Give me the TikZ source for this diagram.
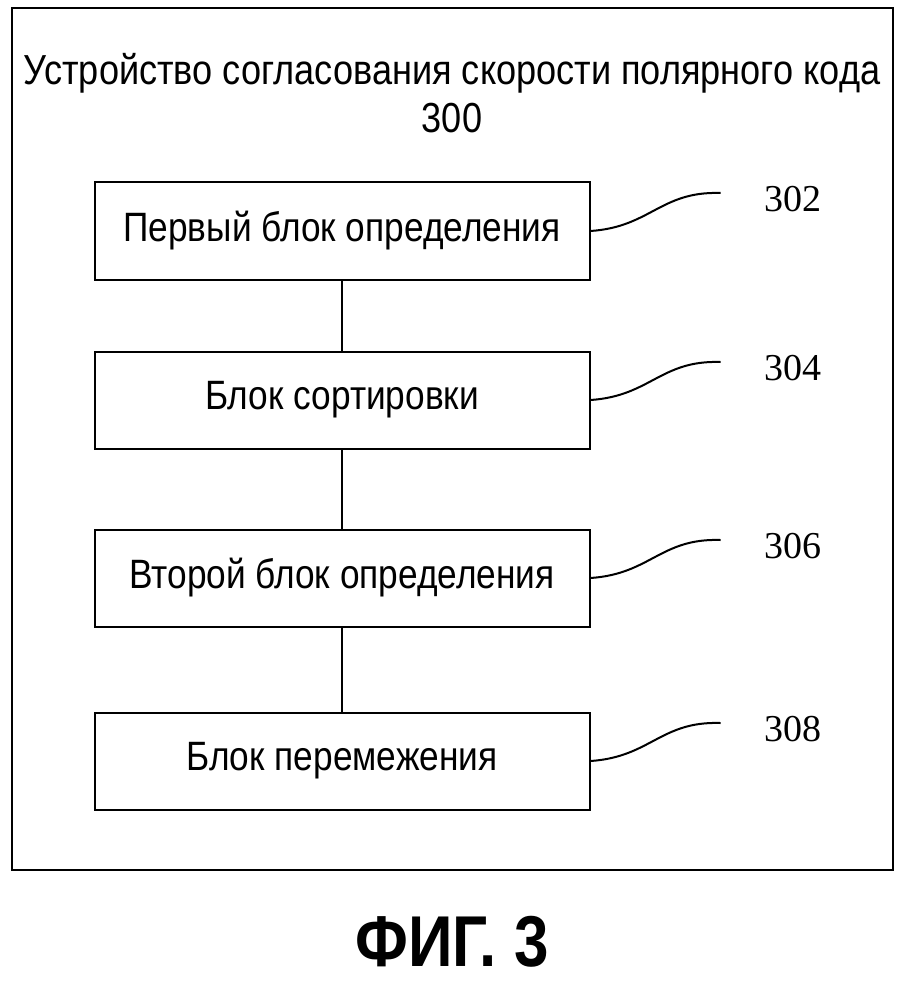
\documentclass[tikz,border=0pt]{standalone}
\usepackage{fontspec}
\setmainfont{Liberation Sans}[FakeStretch=0.86]
\newfontfamily\numfont{Liberation Serif}
\usetikzlibrary{positioning}
\begin{document}
\begin{tikzpicture}[x=1pt,y=-1pt,line width=2pt,
    blockbox/.style={draw,minimum width=495pt,minimum height=97pt,font=\fontsize{41}{48}\selectfont,inner sep=0pt},
    reflabel/.style={font=\numfont\fontsize{38}{42}\selectfont}]
    \useasboundingbox (0,0) rectangle (902,1000);
    \draw (12,8) rectangle (893,870);
    \node[font=\fontsize{42}{48}\selectfont,align=center] (title) at (452,93)
        {Устройство согласования скорости полярного кода\\300};

    \node[blockbox] (b1) at (342,231) {Первый блок определения};
    \node[blockbox] (b2) at (342,400) {Блок сортировки};
    \node[blockbox] (b3) at (342,578) {Второй блок определения};
    \node[blockbox] (b4) at (342,761) {Блок перемежения};

    \draw (b1) -- (b2);
    \draw (b2) -- (b3);
    \draw (b3) -- (b4);

    % reference numbers
    \foreach \b/\n in {b1/302,b2/304,b3/306,b4/308}{
        \coordinate (\b-end) at ([xshift=130pt,yshift=38pt]\b.east);
        \draw (\b.east) .. controls +(60,-4) and +(-60,-2) .. (\b-end);
        \node[reflabel] (\b-num) at ([xshift=72pt,yshift=-6pt]\b-end) {\n};
    }

    \node[font=\bfseries\fontsize{72}{80}\selectfont] (fig) at (452,942) {ФИГ. 3};
\end{tikzpicture}
\end{document}
